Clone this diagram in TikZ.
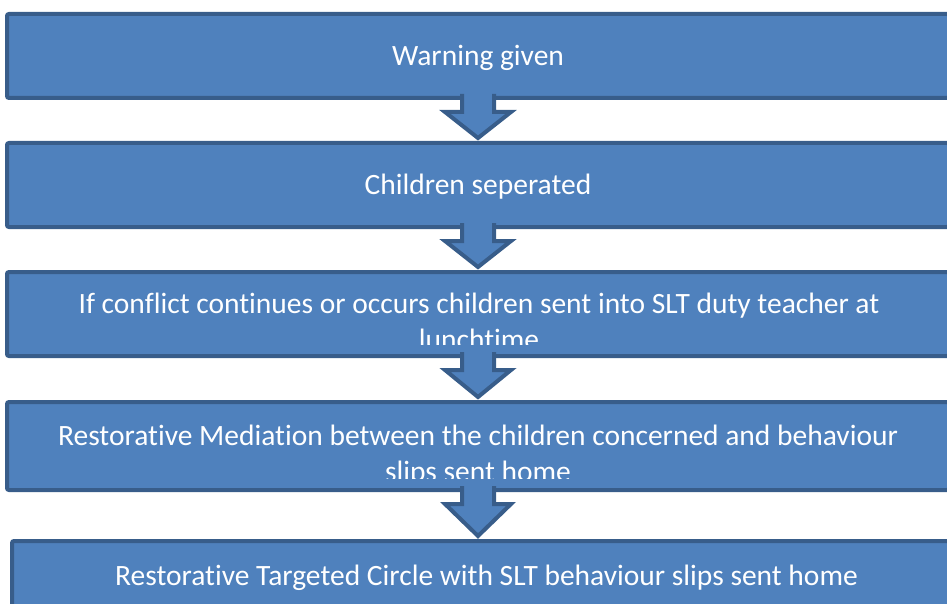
\documentclass[tikz,border=0pt]{standalone}
\usepackage{fontspec}
\setmainfont{Carlito}[Ligatures=NoCommon]
\usetikzlibrary{positioning,calc}
\definecolor{boxblue}{HTML}{4F81BD}
\definecolor{boxline}{HTML}{385D8A}
\tikzset{
  flowbox/.style={draw=boxline, fill=boxblue, line width=4pt, rounded corners=2pt, minimum width=942pt, minimum height=84pt, inner sep=0pt, outer sep=2pt},
  flowtext/.style={text=white, align=center, font=\fontsize{29.5}{36}\selectfont, inner sep=0pt},
  flowarrow/.style={draw=boxline, fill=boxblue, line width=4pt, line join=miter},
}

\begin{document}
\begin{tikzpicture}[x=1pt,y=-1pt]
\useasboundingbox (0,0) rectangle (947,604);
% the boxes
\node [flowbox] (b1) at (478,56) {};
\node [flowbox,below=41pt of b1] (b2) {};
\node [flowbox,below=41pt of b2] (b3) {};
\node [flowbox,minimum height=88pt,below=42pt of b3] (b4) {};
\node [flowbox,minimum width=937pt,below=47pt of b4,xshift=2.5pt] (b5) {};
% block arrows between the boxes
\foreach \a/\b in {b1/b2,b2/b3,b3/b4,b4/b5}{
  \filldraw[flowarrow] ($(\a.south)+(-16,-6)$) -- ($(\a.south)+(-16,12)$) -- ($(\a.south)+(-33,12)$)
    -- ($(\a.south |- \b.north)+(0,-3)$)
    -- ($(\a.south)+(33,12)$) -- ($(\a.south)+(16,12)$) -- ($(\a.south)+(16,-6)$);
}
% the texts
\node [flowtext,anchor=base] (t1) at ($(b1.center)+(0,10)$) {Warning given};
\node [flowtext,anchor=base] (t2) at ($(b2.center)+(0,10)$) {Children seperated};
\begin{scope}
  \clip ($(b3.south west)+(0,-14)$) rectangle (b3.north east);
  \node [flowtext,anchor=base] (t3) at ($(b3.center)+(1,35)$) {If conflict continues or occurs children sent into SLT duty teacher at\\lunchtime};
\end{scope}
\begin{scope}
  \clip ($(b4.south west)+(0,-14)$) rectangle (b4.north east);
  \node [flowtext,anchor=base] (t4) at ($(b4.center)+(0,35)$) {Restorative Mediation between the children concerned and behaviour\\slips sent home};
\end{scope}
\node [flowtext,anchor=base] (t5) at ($(b5.center)+(6,2)$) {Restorative Targeted Circle with SLT behaviour slips sent home};
\end{tikzpicture}
\end{document}
